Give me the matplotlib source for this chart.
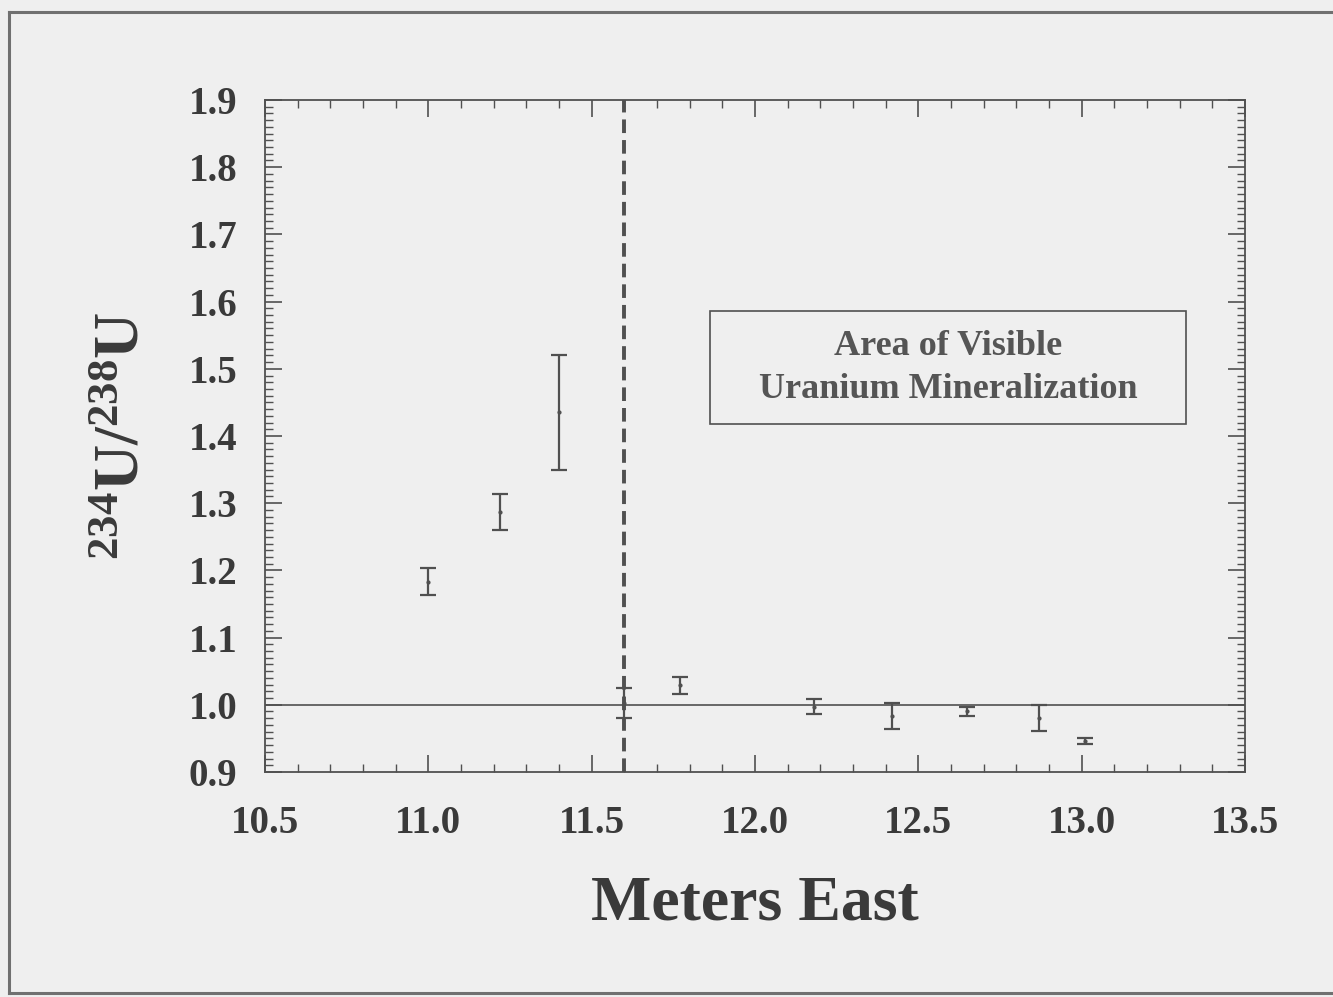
import numpy as np
import matplotlib.pyplot as plt
from matplotlib.patches import Rectangle
from matplotlib.lines import Line2D
from matplotlib.ticker import MultipleLocator

# data
meters_east = [11.0, 11.22, 11.40, 11.6, 11.77, 12.18, 12.42, 12.65, 12.87, 13.01]
ratio = [1.183, 1.287, 1.435, 1.003, 1.029, 0.997, 0.983, 0.990, 0.980, 0.946]
ratio_err = [0.020, 0.027, 0.086, 0.022, 0.013, 0.011, 0.019, 0.006, 0.019, 0.005]

boundary_x = 11.6
secular_eq = 1.0
box_label = "Area of Visible\nUranium Mineralization"

ink = "#505050"
bg = "#efefef"

plt.rcParams['font.family'] = ['Liberation Serif', 'DejaVu Serif']
plt.rcParams['font.weight'] = 'bold'
plt.rcParams['axes.labelweight'] = 'bold'
plt.rcParams['mathtext.fontset'] = 'custom'
plt.rcParams['mathtext.rm'] = 'Liberation Serif:bold'
plt.rcParams['mathtext.it'] = 'Liberation Serif:bold'
plt.rcParams['mathtext.bf'] = 'Liberation Serif:bold'
plt.rcParams['mathtext.default'] = 'bf'

fig = plt.figure(figsize=(13.33, 9.97), dpi=100, facecolor=bg)
ax = fig.add_axes([0.1988, 0.2257, 0.7352, 0.674], facecolor=bg)

ax.errorbar(meters_east, ratio, yerr=ratio_err, fmt='o', ms=2, color=ink,
            ecolor=ink, elinewidth=1.6, capsize=6, capthick=1.6)
ax.axvline(boundary_x, color=ink, lw=2.8, ls=(0, (3.5, 1.8)))
ax.axhline(secular_eq, color=ink, lw=1.2)

ax.set_xlim(10.5, 13.5)
ax.set_ylim(0.9, 1.9)
ax.xaxis.set_major_locator(MultipleLocator(0.5))
ax.xaxis.set_minor_locator(MultipleLocator(0.1))
ax.yaxis.set_major_locator(MultipleLocator(0.1))
ax.yaxis.set_minor_locator(MultipleLocator(0.01))
ax.xaxis.set_major_formatter(lambda v, p: f"{v:.1f}")
ax.yaxis.set_major_formatter(lambda v, p: f"{v:.1f}")
ax.tick_params(which='both', direction='in', top=True, right=True, color=ink,
               labelcolor="#3a3a3a", labelsize=28)
ax.tick_params(which='major', length=12, width=1.2)
ax.tick_params(which='minor', length=6, width=1.0)
ax.tick_params(axis='x', pad=24)
ax.tick_params(axis='y', pad=20)
for s in ax.spines.values():
    s.set_color(ink)
    s.set_linewidth(1.3)

ax.set_xlabel("Meters East", fontsize=46, color="#3a3a3a", labelpad=24)
ax.set_ylabel(r"$\mathbf{^{234}U/^{238}U}$", fontsize=46, color="#3a3a3a", labelpad=26)

# annotation box
ax.add_patch(Rectangle((0.454, 0.518), 0.486, 0.168, transform=ax.transAxes,
                       fill=False, edgecolor=ink, lw=1.2))
ax.text(0.697, 0.601, box_label, transform=ax.transAxes, ha='center', va='center',
        fontsize=26, color="#555555", linespacing=1.38)

# scanned page frame
for xs, ys in [([0.0068, 0.0068], [0.004, 0.988]),
               ([0.0068, 1.0], [0.988, 0.988]),
               ([0.0068, 1.0], [0.004, 0.004])]:
    fig.add_artist(Line2D(xs, ys, color="#707070", lw=2.2, transform=fig.transFigure))

fig.savefig("out.png", dpi=100, facecolor=bg)
